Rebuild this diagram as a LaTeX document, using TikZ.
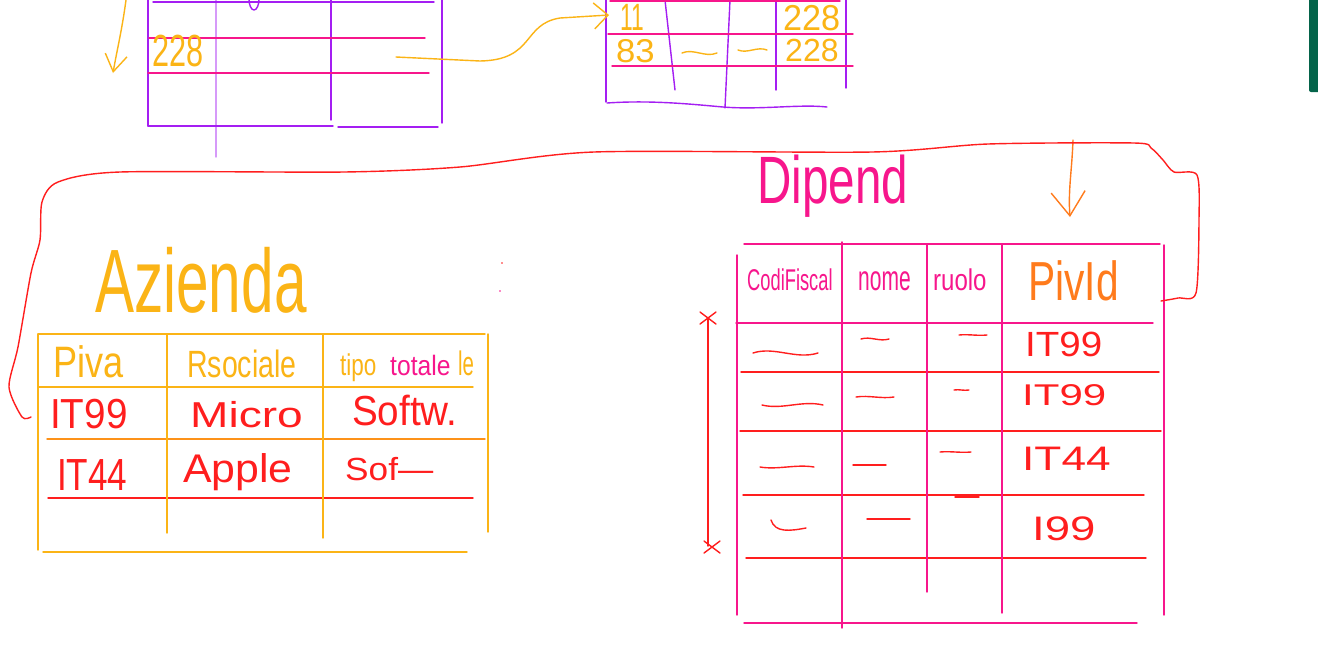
\documentclass[tikz,border=0pt]{standalone}
\usepackage{fontspec}
\setmainfont{Liberation Sans}
\usetikzlibrary{arrows,arrows.meta,positioning}

\definecolor{inkpurple}{HTML}{A41EF2}
\definecolor{inkpink}{HTML}{F7168C}
\definecolor{inkyellow}{HTML}{FBB416}
\definecolor{inkred}{HTML}{FF1E1E}
\definecolor{inkorange}{HTML}{FF7B1C}
\definecolor{barjade}{HTML}{04644A}

% horizontal stroke: style, x from, x to, y
\newcommand{\hstroke}[4]{
  \draw[#1] (#2,#4) -- (#3,#4);
}
% vertical stroke: style, x, y from, y to
\newcommand{\vstroke}[4]{
  \draw[#1] (#2,#3) -- (#2,#4);
}
% handwritten word: name, colour, size, squeeze, x, baseline, text
\newcommand{\word}[7]{
  \node[anchor=base west,inner sep=0pt,text=#2,font={\fontsize{#3}{#3}\selectfont}]
    (#1) at (#5,#6) {\scalebox{#4}[1]{#7}};
}
% scribbled value: style, x, y, width, wave
\newcommand{\squig}[5]{
  \draw[#1] (#2,#3) .. controls (#2+0.33*#4,#3-#5) and (#2+0.66*#4,#3+#5) .. (#2+#4,#3);
}
% cross mark: style, x, y
\newcommand{\cross}[3]{
  \draw[#1] (#2-8,#3-6) -- (#2+8,#3+6) (#2-8,#3+6) -- (#2+8,#3-6);
}

\begin{document}
\begin{tikzpicture}[x=1pt,y=-1pt,line cap=round,line join=round,
  pen/.style={line width=1.4pt}]
\useasboundingbox (0,0) rectangle (1318,657);
\fill[white] (0,0) rectangle (1318,657);
\fill[barjade,rounded corners=2pt] (1309,-4) rectangle (1322,92);

% old table, top left
\vstroke{pen,inkpurple}{148}{0}{126}
\vstroke{pen,inkpurple!45}{216}{0}{157}
\vstroke{pen,inkpurple}{331}{0}{120}
\vstroke{pen,inkpurple}{442}{0}{123}
\hstroke{pen,inkpurple}{153}{434}{2}
\hstroke{pen,inkpink}{149}{425}{38}
\hstroke{pen,inkpink}{148}{429}{73}
\hstroke{pen,inkpurple}{148}{333}{126}
\hstroke{pen,inkpurple}{338}{438}{127}
\draw[pen,inkpurple] (254,-1) ellipse [x radius=5pt,y radius=11pt];
\word{oldVal}{inkyellow}{45}{0.68}{152}{66}{228}

% new table, top right
\vstroke{pen,inkpurple}{606}{0}{102}
\draw[pen,inkpurple] (665,0) -- (675,90);
\draw[pen,inkpurple] (730,0) -- (725,108);
\vstroke{pen,inkpurple}{776}{0}{90}
\vstroke{pen,inkpurple}{846}{0}{88}
\draw[pen,inkpurple] (607,103) .. controls (650,100) and (690,104) .. (723,107)
  .. controls (760,110) and (800,104) .. (827,107);
\hstroke{pen,inkpink}{610}{840}{1}
\hstroke{pen,inkpink}{608}{853}{34}
\hstroke{pen,inkpink}{612}{853}{66}
\word{newKey}{inkyellow}{38}{0.6}{620}{30}{11}
\word{newKeyB}{inkyellow}{33}{1.05}{616}{62}{83}
\word{newVal}{inkyellow}{36}{0.95}{783}{30}{228}
\word{newValB}{inkyellow}{32}{1.0}{785}{61}{228}
\squig{pen,inkyellow}{682}{53}{35}{5}
\squig{pen,inkyellow}{738}{50}{29}{-4}

% moving the row
\coordinate (oldRow) at (396,57);
\coordinate (newRow) at (609,15);
\draw[pen,inkyellow,-{Straight Barb[length=14pt,width=26pt]}]
  (oldRow) -- (480,61) .. controls (535,60) and (522,24) .. (560,18) -- (newRow);
\coordinate (dropTop) at (126,0);
\coordinate (dropEnd) at (113,73);
\draw[pen,inkyellow,-{Straight Barb[length=17pt,width=22pt]}]
  (dropTop) .. controls (122,30) and (117,50) .. (dropEnd);

% Azienda
\word{azTitle}{inkyellow}{90}{0.65}{95}{312}{Azienda}
\hstroke{pen,inkyellow}{38}{485}{334}
\hstroke{pen,inkyellow}{38}{473}{387}
\hstroke{pen,inkorange!60!inkyellow}{47}{485}{439}
\hstroke{pen,inkred}{48}{473}{498}
\hstroke{pen,inkyellow}{43}{467}{552}
\vstroke{pen,inkyellow}{38}{334}{550}
\vstroke{pen,inkyellow}{167}{334}{533}
\vstroke{pen,inkyellow}{323}{334}{538}
\vstroke{pen,inkyellow}{488}{334}{532}
\word{azPiva}{inkyellow}{44}{0.82}{53}{377}{Piva}
\word{azRsoc}{inkyellow}{38}{0.75}{187}{377}{Rsociale}
\word{azTipo}{inkyellow}{30}{0.75}{340}{375}{tipo}
\word{azTipoFix}{inkpink}{28}{0.88}{390}{375}{totale}
\word{azTipoEnd}{inkyellow}{34}{0.6}{458}{375}{le}
\word{azPivaA}{inkred}{42}{0.92}{50}{428}{IT99}
\word{azNameA}{inkred}{36}{1.28}{190}{427}{Micro}
\word{azTipoA}{inkred}{42}{0.92}{352}{425}{Softw.}
\word{azPivaB}{inkred}{45}{0.78}{57}{490}{IT44}
\word{azNameB}{inkred}{40}{1.07}{183}{482}{Apple}
\word{azTipoB}{inkred}{32}{1.1}{345}{480}{Sof—}

% Dipend
\word{dpTitle}{inkpink}{67}{0.71}{757}{203}{Dipend}
\hstroke{pen,inkpink}{744}{1160}{244}
\hstroke{pen,inkpink}{736}{1153}{323}
\hstroke{pen,inkred}{741}{1159}{372}
\hstroke{pen,inkred}{740}{1161}{431}
\hstroke{pen,inkred}{743}{1144}{495}
\hstroke{pen,inkred}{746}{1146}{558}
\hstroke{pen,inkpink}{744}{1137}{623}
\vstroke{pen,inkpink}{737}{255}{615}
\vstroke{pen,inkpink}{842}{242}{628}
\vstroke{pen,inkpink}{927}{245}{592}
\vstroke{pen,inkpink}{1002}{245}{613}
\vstroke{pen,inkpink}{1164}{245}{615}
\word{dpCf}{inkpink}{30}{0.61}{747}{290}{CodiFiscal}
\word{dpNome}{inkpink}{35}{0.6}{858}{290}{nome}
\word{dpRuolo}{inkpink}{30}{0.8}{933}{290}{ruolo}
\word{dpPiv}{inkorange}{55}{0.74}{1028}{300}{PivId}
\word{dpRowA}{inkred}{35}{1.1}{1025}{356}{IT99}
\word{dpRowB}{inkred}{30}{1.4}{1022}{405}{IT99}
\word{dpRowC}{inkred}{34}{1.3}{1022}{470}{IT44}
\word{dpRowD}{inkred}{34}{1.34}{1032}{540}{I99}
\squig{pen,inkred}{753}{353}{65}{7}
\squig{pen,inkred}{861}{339}{28}{3}
\squig{pen,inkred}{959}{335}{28}{1}
\squig{pen,inkred}{762}{405}{61}{-5}
\squig{pen,inkred}{856}{397}{38}{2}
\squig{pen,inkred}{954}{390}{15}{1}
\squig{pen,inkred}{760}{467}{54}{-3}
\squig{pen,inkred}{853}{465}{33}{0}
\squig{pen,inkred}{940}{452}{31}{1}
\squig{pen,inkred}{955}{497}{24}{0}
\draw[pen,inkred] (771,520) .. controls (775,533) and (790,531) .. (806,528);
\squig{pen,inkred}{867}{519}{43}{0}
\fill[inkred] (502,263) circle (0.8pt);
\fill[inkpink] (500,291) circle (0.8pt);

% rows spanned
\coordinate (spanTop) at (708,319);
\coordinate (spanEnd) at (708,546);
\draw[pen,inkred] (spanTop) -- (spanEnd);
\cross{pen,inkred}{708}{318}
\cross{pen,inkred}{712}{547}

% key of Dipend goes back to Azienda
\coordinate (pivTop) at (1073,140);
\coordinate (pivEnd) at (1070,217);
\draw[pen,inkorange,-{Straight Barb[length=24pt,width=34pt]}]
  (pivTop) .. controls (1072,170) and (1068,190) .. (pivEnd);
\coordinate (dpLink) at (1161,301);
\coordinate (azLink) at (31,417);
\draw[pen,inkred] plot[smooth,tension=0.45] coordinates {(dpLink) (1178,298)
  (1196,293) (1199,220) (1197,175) (1174,172) (1163,160) (1151,148) (1134,143)
  (988,144) (872,152) (594,152) (460,167) (344,172) (120,172) (58,182)
  (42,202) (40,240) (31,273) (18,347) (9,387) (22,417) (azLink)};
\end{tikzpicture}
\end{document}
